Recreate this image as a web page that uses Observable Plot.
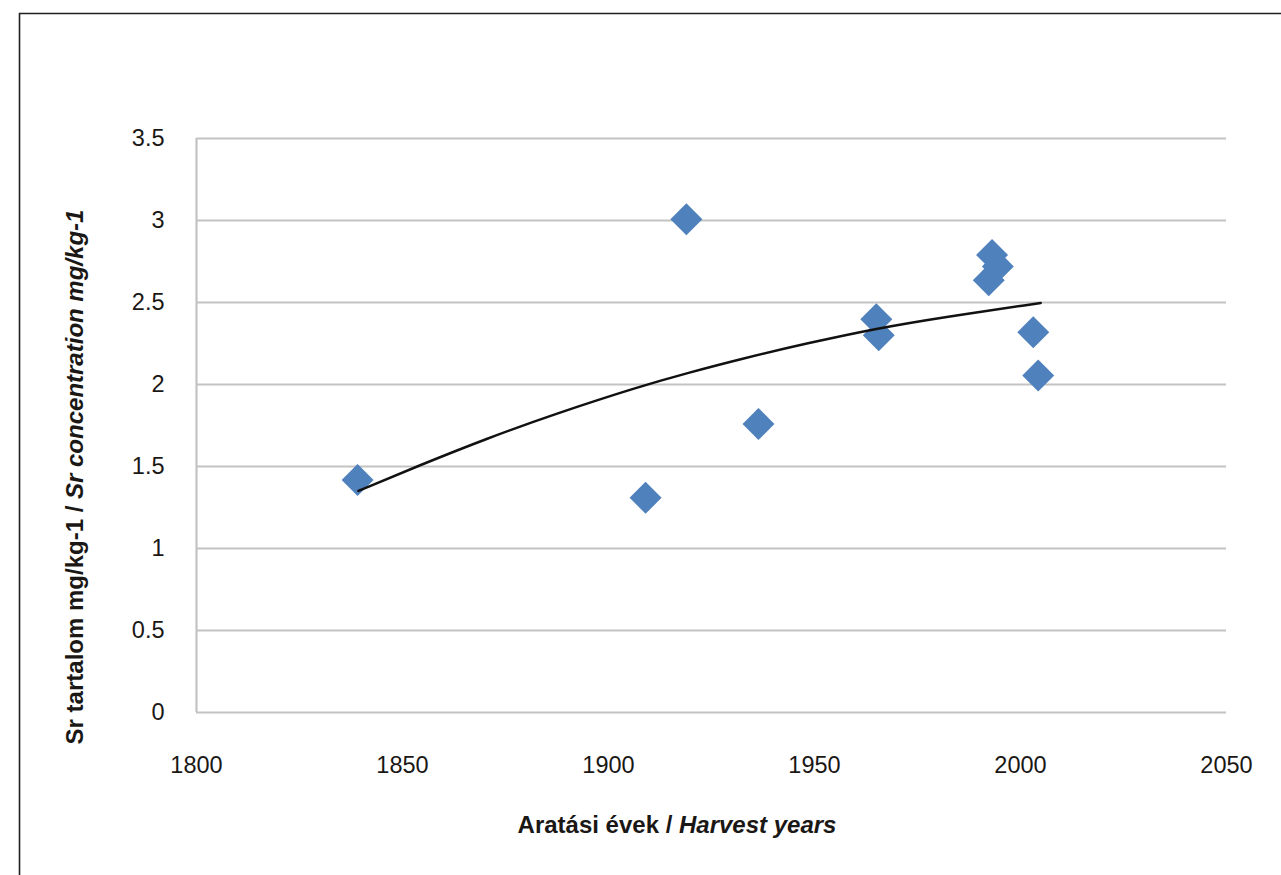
<!DOCTYPE html>
<html>
<head>
<meta charset="utf-8">
<script src="https://cdn.jsdelivr.net/npm/d3@7"></script>
<script src="https://cdn.jsdelivr.net/npm/@observablehq/plot@0.6"></script>
<style>
  html, body { margin: 0; padding: 0; background: #fff; }
  #chart { position: relative; width: 1281px; height: 875px; overflow: hidden; }
  svg { display: block; }
</style>
</head>
<body>
<div id="chart"></div>
<script>
// Harvest years and Sr concentration (mg/kg-1)
const years  = [1839.1, 1909.0, 1918.9, 1936.4, 1965.0, 1965.6, 1993.1, 1994.5, 1992.3, 2003.1, 2004.3];
const values = [1.418, 1.309, 3.007, 1.759, 2.398, 2.300, 2.790, 2.720, 2.636, 2.319, 2.055];

// Trend curve
const trendYears  = [1839.3, 1854.4, 1870.6, 1886.7, 1907.8, 1919.2, 1932.0, 1948.3, 1965.3, 1980.6, 2004.9];
const trendValues = [1.351, 1.510, 1.672, 1.818, 1.990, 2.070, 2.155, 2.252, 2.343, 2.408, 2.497];

// Tick values
const xTicks = [1800, 1850, 1900, 1950, 2000, 2050];
const yTicks = [0, 0.5, 1, 1.5, 2, 2.5, 3, 3.5];

const xTitleA = "Aratási évek / ";
const xTitleB = "Harvest years";
const yTitleA = "Sr tartalom mg/kg-1 / ";
const yTitleB = "Sr concentration mg/kg-1";

const points = years.map((y, i) => ({year: y, value: values[i]}));
const trend = trendYears.map((y, i) => ({year: y, value: trendValues[i]}));

const font = "'Liberation Sans', Arial, Helvetica, sans-serif";

const plot = Plot.plot({
  width: 1281,
  height: 875,
  marginLeft: 196,
  marginRight: 55,
  marginTop: 138,
  marginBottom: 163,
  style: {fontFamily: font, fontSize: "23px", color: "#1a1715", background: "#fff"},
  x: {domain: [1800, 2050], ticks: xTicks, tickFormat: d => String(d)},
  y: {domain: [0, 3.5], ticks: yTicks, tickFormat: d => String(d)},
  marks: [
    Plot.gridY(yTicks, {stroke: "#c3c3c3", strokeOpacity: 1, strokeWidth: 2.2}),
    Plot.ruleX([1800], {stroke: "#c3c3c3", strokeWidth: 2.2}),
    Plot.axisX(xTicks, {tickSize: 0, tickPadding: 44, label: null, fontSize: 23.5, tickFormat: d => String(d)}),
    Plot.axisY(yTicks, {tickSize: 0, tickPadding: 32, label: null, fontSize: 23.5, tickFormat: d => String(d)}),
    Plot.dot(points, {x: "year", y: "value", symbol: "diamond2", r: 14.4, fill: "#4f81bd", stroke: "none"}),
    Plot.line(trend, {x: "year", y: "value", curve: "basis", stroke: "#111", strokeWidth: 2.5})
  ]
});

document.getElementById("chart").appendChild(plot);

const svg = d3.select(plot);

// outer frame (left and top edges visible)
svg.append("path")
  .attr("d", "M19.5,1000 L19.5,13.5 L1300,13.5")
  .attr("fill", "none")
  .attr("stroke", "#231f20")
  .attr("stroke-width", 1.6);

// x-axis title
const xt = svg.append("text")
  .attr("x", 677)
  .attr("y", 833)
  .attr("text-anchor", "middle")
  .attr("font-family", font)
  .attr("font-size", 24)
  .attr("font-weight", "bold")
  .attr("fill", "#1a1715");
xt.append("tspan").text(xTitleA);
xt.append("tspan").attr("font-style", "italic").text(xTitleB);

// y-axis title
const yt = svg.append("text")
  .attr("transform", "translate(83,477) rotate(-90)")
  .attr("text-anchor", "middle")
  .attr("font-family", font)
  .attr("font-size", 24)
  .attr("font-weight", "bold")
  .attr("fill", "#1a1715");
yt.append("tspan").text(yTitleA);
yt.append("tspan").attr("font-style", "italic").text(yTitleB);
</script>
</body>
</html>
